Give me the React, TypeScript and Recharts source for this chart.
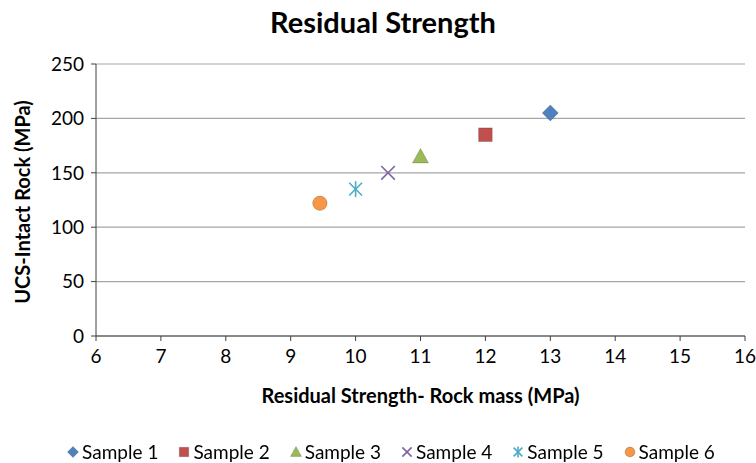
import React from "react";
import { CartesianGrid, Scatter, ScatterChart, XAxis, YAxis } from "recharts";

const samples = ["Sample 1", "Sample 2", "Sample 3", "Sample 4", "Sample 5", "Sample 6"];
const residualStrength = [13, 12, 11, 10.5, 10, 9.45];
const ucsIntact = [205, 185, 165, 150, 135, 122];
const markers = ["diamond", "square", "triangle", "x", "asterisk", "circle"];
const colors = ["#4f81bd", "#c0504d", "#9bbb59", "#8064a2", "#4bacc6", "#f79646"];
const xTicks = [6, 7, 8, 9, 10, 11, 12, 13, 14, 15, 16];
const yTicks = [0, 50, 100, 150, 200, 250];

const FONT = "Lato, 'Open Sans', sans-serif";

function Marker({ kind, color, cx, cy, r }: { kind: string; color: string; cx: number; cy: number; r: number }) {
  const stroke = "rgba(0,0,0,0.18)";
  switch (kind) {
    case "diamond":
      return <polygon points={`${cx},${cy - r} ${cx + r},${cy} ${cx},${cy + r} ${cx - r},${cy}`} fill={color} stroke={stroke} />;
    case "square":
      return <rect x={cx - r * 0.85} y={cy - r * 0.85} width={r * 1.7} height={r * 1.7} fill={color} stroke={stroke} />;
    case "triangle":
      return <polygon points={`${cx},${cy - r} ${cx + r},${cy + r * 0.8} ${cx - r},${cy + r * 0.8}`} fill={color} stroke={stroke} />;
    case "x": {
      const d = r * 0.85;
      return (
        <g stroke={color} strokeWidth={1.6}>
          <line x1={cx - d} y1={cy - d} x2={cx + d} y2={cy + d} />
          <line x1={cx - d} y1={cy + d} x2={cx + d} y2={cy - d} />
        </g>
      );
    }
    case "asterisk": {
      const d = r * 0.8;
      return (
        <g stroke={color} strokeWidth={1.6}>
          <line x1={cx - d} y1={cy - d} x2={cx + d} y2={cy + d} />
          <line x1={cx - d} y1={cy + d} x2={cx + d} y2={cy - d} />
          <line x1={cx} y1={cy - r} x2={cx} y2={cy + r} />
        </g>
      );
    }
    default:
      return <circle cx={cx} cy={cy} r={r * 0.9} fill={color} stroke={stroke} />;
  }
}

const seriesData = samples.map((name, i) => ({
  name,
  kind: markers[i],
  color: colors[i],
  data: [{ x: residualStrength[i], y: ucsIntact[i] }],
}));

export default function App() {
  return (
    <div style={{ position: "fixed", top: 0, left: 0, width: 756, height: 463, background: "#fff", fontFamily: FONT }}>
      <div style={{ position: "absolute", top: 4, left: 0, width: 756, textAlign: "center", fontSize: 29, fontWeight: 700, color: "#000", paddingLeft: 10, boxSizing: "border-box" }}>
        Residual Strength
      </div>
      <ScatterChart width={756} height={463} margin={{ top: 64, right: 11, left: 0, bottom: 97 }}>
        <CartesianGrid vertical={false} stroke="#a6a6a6" strokeWidth={1.2} />
        <XAxis
          type="number"
          dataKey="x"
          domain={[6, 16]}
          ticks={xTicks}
          interval={0}
          height={30}
          tickSize={5}
          stroke="#404040"
          tick={{ fill: "#000", fontSize: 19, fontFamily: FONT }}
          tickMargin={9}
        />
        <YAxis
          type="number"
          dataKey="y"
          domain={[0, 250]}
          ticks={yTicks}
          interval={0}
          width={96}
          tickSize={5}
          stroke="#404040"
          tick={{ fill: "#000", fontSize: 19, fontFamily: FONT }}
          tickMargin={7}
        />
        {seriesData.map((s) => (
          <Scatter
            key={s.name}
            name={s.name}
            data={s.data}
            isAnimationActive={false}
            shape={(p: any) => <Marker kind={s.kind} color={s.color} cx={p.cx} cy={p.cy} r={8} />}
          />
        ))}
      </ScatterChart>
      <div
        style={{
          position: "absolute", left: 22, top: 202, transform: "translate(-50%, -50%) rotate(-90deg)",
          whiteSpace: "nowrap", fontSize: 20, fontWeight: 700, color: "#000", lineHeight: "24px",
        }}
      >
        UCS-Intact Rock (MPa)
      </div>
      <div style={{ position: "absolute", top: 382, left: 96, width: 649, textAlign: "center", fontSize: 20, fontWeight: 700, color: "#000", lineHeight: "26px" }}>
        Residual Strength- Rock mass (MPa)
      </div>
      <div
        style={{
          position: "absolute", top: 440, left: 0, width: 756, display: "flex", justifyContent: "center", gap: 20,
          paddingLeft: 26, boxSizing: "border-box", fontSize: 19, color: "#000", lineHeight: "24px",
        }}
      >
        {seriesData.map((s) => (
          <div key={s.name} style={{ display: "flex", alignItems: "center", gap: 3 }}>
            <svg width={12} height={12}>
              <Marker kind={s.kind} color={s.color} cx={6} cy={6} r={5.5} />
            </svg>
            <span>{s.name}</span>
          </div>
        ))}
      </div>
    </div>
  );
}
